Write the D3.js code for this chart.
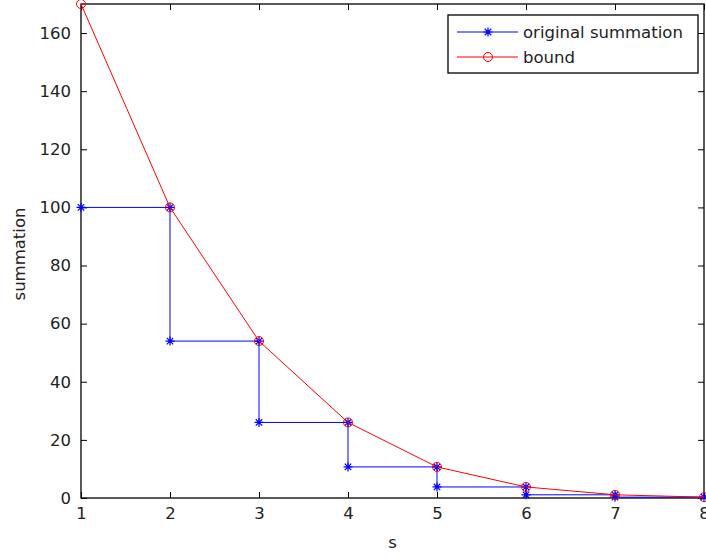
<!DOCTYPE html>
<html>
<head>
<meta charset="utf-8">
<script src="https://cdn.jsdelivr.net/npm/d3@7"></script>
<style>
  body { margin: 0; background: #fff; }
  text { font-family: "DejaVu Sans", sans-serif; fill: #222; }
</style>
</head>
<body>
<svg id="chart" width="706" height="558"></svg>
<script>
// bound curve, one value per s
var sValues = [1, 2, 3, 4, 5, 6, 7, 8];
var boundValues = [170, 100, 54, 26, 10.7, 3.8, 1.1, 0.3];

// original summation, drawn as a staircase
var origX = [1, 2, 2, 3, 3, 4, 4, 5, 5, 6, 6, 7, 7, 8];
var origY = [100, 100, 54, 54, 26, 26, 10.7, 10.7, 3.8, 3.8, 1.1, 1.1, 0.3, 0.3];

var xTicks = [1, 2, 3, 4, 5, 6, 7, 8];
var yTicks = [0, 20, 40, 60, 80, 100, 120, 140, 160];

var legendNames = ["original summation", "bound"];

var svg = d3.select("#chart");
var mLeft = 81, mRight = 704, mTop = 4, mBottom = 498;
var fontSize = "16.5px";

var x = d3.scaleLinear().domain([1, 8]).range([mLeft, mRight]);
var y = d3.scaleLinear().domain([0, 170]).range([mBottom, mTop]);

// axes, matlab style box with inward ticks
var tickLen = 6;
var xAxis = d3.axisBottom(x).tickValues(xTicks).tickFormat(d3.format("d"))
              .tickSizeInner(-tickLen).tickSizeOuter(0).tickPadding(9);
var yAxis = d3.axisLeft(y).tickValues(yTicks).tickFormat(d3.format("d"))
              .tickSizeInner(-tickLen).tickSizeOuter(0).tickPadding(10);

svg.append("g").attr("transform", "translate(0," + mBottom + ")").call(xAxis);
svg.append("g").attr("transform", "translate(" + mLeft + ",0)").call(yAxis);
// top and right ticks
svg.append("g").attr("transform", "translate(0," + mTop + ")")
   .call(d3.axisTop(x).tickValues(xTicks).tickSizeInner(-tickLen).tickSizeOuter(0).tickFormat(""));
svg.append("g").attr("transform", "translate(" + mRight + ",0)")
   .call(d3.axisRight(y).tickValues(yTicks).tickSizeInner(-tickLen).tickSizeOuter(0).tickFormat(""));

svg.selectAll(".domain").remove();
svg.selectAll(".tick line").attr("stroke", "#000");
svg.selectAll(".tick text").style("font-size", fontSize)
   .style("font-family", "DejaVu Sans, sans-serif").attr("fill", "#222");

svg.append("rect")
   .attr("x", mLeft).attr("y", mTop)
   .attr("width", mRight - mLeft).attr("height", mBottom - mTop)
   .attr("fill", "none").attr("stroke", "#000").attr("stroke-width", 1.3);

// axis labels
svg.append("text").attr("x", (mLeft + mRight) / 2).attr("y", 548)
   .attr("text-anchor", "middle").style("font-size", fontSize).text("s");
svg.append("text").attr("transform", "translate(25,254) rotate(-90)")
   .attr("text-anchor", "middle").style("font-size", fontSize).text("summation");

// markers
function star(g, cx, cy, r) {
  var d = r * 0.72;
  g.append("path")
   .attr("d", "M" + (cx - r) + "," + cy + "H" + (cx + r) +
              "M" + cx + "," + (cy - r) + "V" + (cy + r) +
              "M" + (cx - d) + "," + (cy - d) + "L" + (cx + d) + "," + (cy + d) +
              "M" + (cx - d) + "," + (cy + d) + "L" + (cx + d) + "," + (cy - d))
   .attr("stroke", "#0000ff").attr("stroke-width", 1.2).attr("fill", "none");
}
function ring(g, cx, cy, r) {
  g.append("circle").attr("cx", cx).attr("cy", cy).attr("r", r)
   .attr("stroke", "#ff0000").attr("stroke-width", 1).attr("fill", "none");
}

var plot = svg.append("g");

var origPts = origX.map(function(d, i) { return [d, origY[i]]; });
var boundPts = sValues.map(function(d, i) { return [d, boundValues[i]]; });
var line = d3.line().x(function(d) { return x(d[0]); }).y(function(d) { return y(d[1]); });

plot.append("path").datum(origPts).attr("d", line)
    .attr("fill", "none").attr("stroke", "#0000ff").attr("stroke-width", 1);
origPts.forEach(function(p) { star(plot, x(p[0]), y(p[1]), 4.5); });

plot.append("path").datum(boundPts).attr("d", line)
    .attr("fill", "none").attr("stroke", "#ff0000").attr("stroke-width", 1);
boundPts.forEach(function(p) { ring(plot, x(p[0]), y(p[1]), 4.5); });

// legend
var lg = svg.append("g");
lg.append("rect").attr("x", 448).attr("y", 15).attr("width", 250).attr("height", 58)
  .attr("fill", "#fff").attr("stroke", "#000").attr("stroke-width", 1.3);
var rowsY = [32, 57];
legendNames.forEach(function(name, i) {
  var col = i === 0 ? "#0000ff" : "#ff0000";
  lg.append("line").attr("x1", 457).attr("x2", 518).attr("y1", rowsY[i]).attr("y2", rowsY[i])
    .attr("stroke", col).attr("stroke-width", 1);
  if (i === 0) star(lg, 488, rowsY[i], 4.5); else ring(lg, 488, rowsY[i], 4.5);
  lg.append("text").attr("x", 523).attr("y", rowsY[i]).attr("dy", "0.36em")
    .style("font-size", fontSize).text(name);
});
</script>
</body>
</html>
